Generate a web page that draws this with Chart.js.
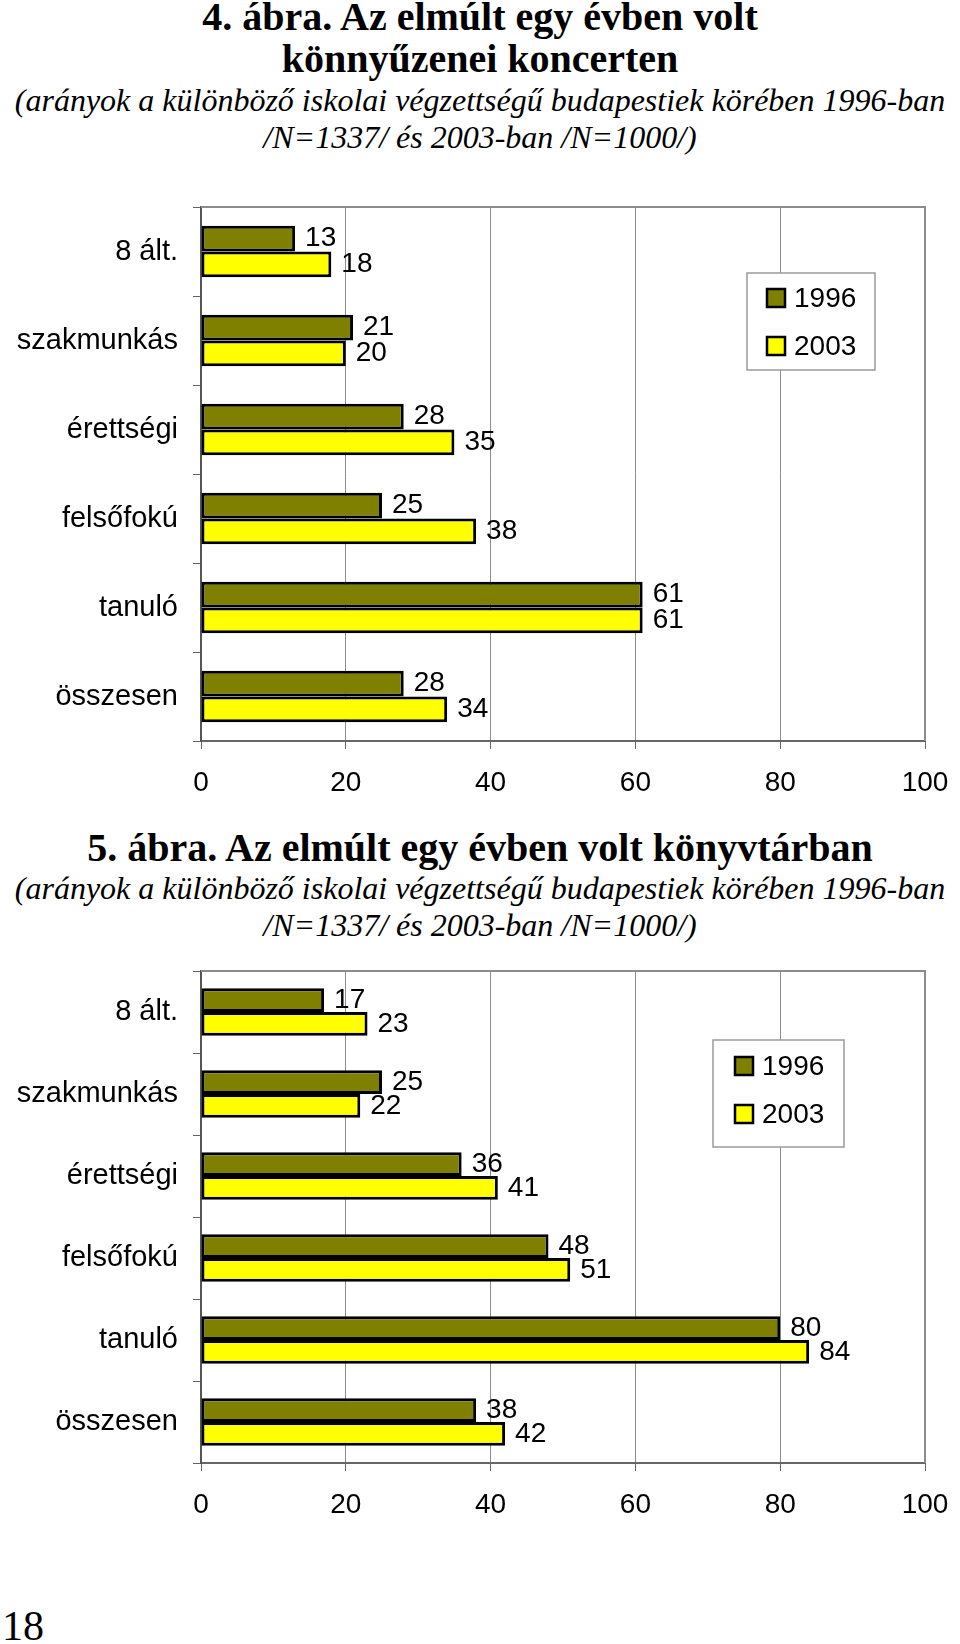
<!DOCTYPE html>
<html>
<head>
<meta charset="utf-8">
<script src="https://cdn.jsdelivr.net/npm/chart.js@4.4.1/dist/chart.umd.min.js"></script>
<style>
  body { margin: 0; width: 960px; height: 1644px; background: #fff; position: relative; overflow: hidden; }
  .t { position: absolute; left: 0; width: 960px; text-align: center; font-family: "Liberation Serif", "Times New Roman", serif; white-space: nowrap; line-height: 1; color: #000; }
  .b { font-weight: bold; font-size: 40px; }
  .i { font-style: italic; font-size: 32px; }
  .wrap { position: absolute; left: 0; width: 960px; }
  .page { position: absolute; left: 2px; top: 1605px; font-family: "Liberation Serif", serif; font-size: 42px; line-height: 1; }
</style>
</head>
<body>
<div class="t b" style="top:-3px">4. ábra. Az elmúlt egy évben volt</div>
<div class="t b" style="top:39px">könnyűzenei koncerten</div>
<div class="t i" style="top:84px">(arányok a különböző iskolai végzettségű budapestiek körében 1996-ban</div>
<div class="t i" style="top:121px">/N=1337/ és 2003-ban /N=1000/)</div>
<div class="wrap" style="top:190px;height:620px"><canvas id="graph1"></canvas></div>

<div class="t b" style="top:828px">5. ábra. Az elmúlt egy évben volt könyvtárban</div>
<div class="t i" style="top:872px">(arányok a különböző iskolai végzettségű budapestiek körében 1996-ban</div>
<div class="t i" style="top:909px">/N=1337/ és 2003-ban /N=1000/)</div>
<div class="wrap" style="top:954px;height:580px"><canvas id="graph2"></canvas></div>

<div class="page">18</div>

<script>
const categories = ['8 ált.', 'szakmunkás', 'érettségi', 'felsőfokú', 'tanuló', 'összesen'];
const seriesNames = ['1996', '2003'];
const xTicks = [0, 20, 40, 60, 80, 100];

// 4. ábra - könnyűzenei koncert
const concert1996 = [13, 21, 28, 25, 61, 28];
const concert2003 = [18, 20, 35, 38, 61, 34];

// 5. ábra - könyvtár
const library1996 = [17, 25, 36, 48, 80, 38];
const library2003 = [23, 22, 41, 51, 84, 42];

const sans = '"Liberation Sans", Arial, sans-serif';

// top + right edge of the plot box
const frameLines = {
    id: 'frameLines',
    beforeDatasetsDraw(chart) {
        let a = chart.chartArea;
        let ctx = chart.ctx;
        ctx.save();
        ctx.strokeStyle = '#8c8c8c';
        ctx.lineWidth = 2;
        ctx.beginPath();
        ctx.moveTo(a.left, a.top);
        ctx.lineTo(a.right, a.top);
        ctx.lineTo(a.right, a.bottom);
        ctx.stroke();
        ctx.restore();
    }
};

const valueLabels = {
    id: 'valueLabels',
    afterDatasetsDraw(chart) {
        let ctx = chart.ctx;
        ctx.save();
        ctx.font = '28px ' + sans;
        ctx.fillStyle = '#000';
        ctx.textAlign = 'left';
        ctx.textBaseline = 'middle';
        chart.data.datasets.forEach(function (ds, i) {
            chart.getDatasetMeta(i).data.forEach(function (bar, j) {
                ctx.fillText(ds.data[j], bar.x + 10, bar.y);
            });
        });
        ctx.restore();
    }
};

const boxLegend = {
    id: 'boxLegend',
    afterDatasetsDraw(chart, args, opts) {
        let ctx = chart.ctx;
        ctx.save();
        ctx.fillStyle = '#fff';
        ctx.fillRect(opts.x, opts.y, opts.w, opts.h);
        ctx.strokeStyle = '#9a9a9a';
        ctx.lineWidth = 1.5;
        ctx.strokeRect(opts.x, opts.y, opts.w, opts.h);
        ctx.font = '28px ' + sans;
        ctx.textBaseline = 'middle';
        chart.data.datasets.forEach(function (ds, i) {
            let cy = opts.y + opts.rows[i];
            ctx.fillStyle = ds.backgroundColor;
            ctx.fillRect(opts.x + opts.sw, cy - 9, 18, 18);
            ctx.strokeStyle = '#000';
            ctx.lineWidth = 2.5;
            ctx.strokeRect(opts.x + opts.sw, cy - 9, 18, 18);
            ctx.fillStyle = '#000';
            ctx.fillText(ds.label, opts.x + opts.sw + 27, cy + 1);
        });
        ctx.restore();
    }
};

function makeChart(id, v1996, v2003, xHeight, legendPos) {
    let ctx = document.getElementById(id).getContext('2d');
    return new Chart(ctx, {
        type: 'bar',
        data: {
            labels: categories,
            datasets: [
                {
                    label: seriesNames[0],
                    data: v1996,
                    backgroundColor: '#808000',
                    borderColor: '#000',
                    borderWidth: 3,
                    borderSkipped: false
                },
                {
                    label: seriesNames[1],
                    data: v2003,
                    backgroundColor: '#ffff00',
                    borderColor: '#000',
                    borderWidth: 3,
                    borderSkipped: false
                }
            ]
        },
        options: {
            indexAxis: 'y',
            responsive: true,
            maintainAspectRatio: false,
            animation: false,
            categoryPercentage: 0.58,
            barPercentage: 1,
            layout: { padding: { top: 17, right: 35, left: 0, bottom: 0 } },
            plugins: {
                legend: { display: false },
                tooltip: { enabled: false },
                boxLegend: legendPos
            },
            scales: {
                x: {
                    min: 0,
                    max: 100,
                    afterBuildTicks: function (scale) {
                        scale.ticks = xTicks.map(function (v) { return { value: v }; });
                    },
                    afterFit: function (scale) {
                        scale.height = xHeight;
                        scale.paddingLeft = 0;
                        scale.paddingRight = 0;
                    },
                    grid: { color: '#8c8c8c', lineWidth: 1, tickLength: 8, tickColor: '#666' },
                    border: { color: '#666', width: 2 },
                    ticks: { color: '#000', font: { family: sans, size: 28 }, padding: 17, maxRotation: 0 }
                },
                y: {
                    afterFit: function (scale) {
                        scale.width = 201;
                        scale.paddingTop = 0;
                        scale.paddingBottom = 0;
                    },
                    grid: { drawOnChartArea: false, tickLength: 8, color: '#666', offset: true },
                    border: { color: '#555', width: 2 },
                    ticks: { color: '#000', font: { family: sans, size: 29 }, padding: 15 }
                }
            }
        },
        plugins: [frameLines, valueLabels, boxLegend]
    });
}

makeChart('graph1', concert1996, concert2003, 69,
    { x: 747, y: 83, w: 128, h: 97, sw: 20, rows: [25, 73] });
makeChart('graph2', library1996, library2003, 71,
    { x: 713, y: 86, w: 131, h: 107, sw: 22, rows: [26, 74] });
</script>
</body>
</html>
